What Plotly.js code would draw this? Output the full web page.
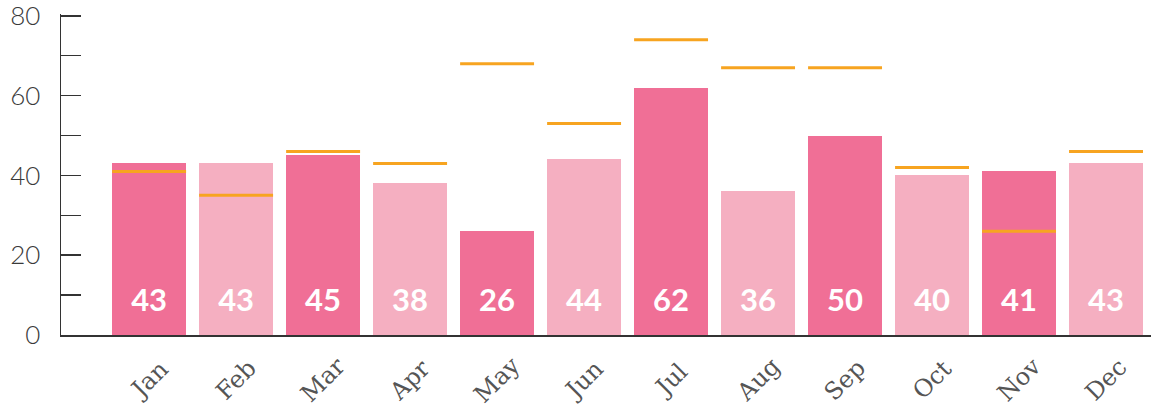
<!DOCTYPE html>
<html>
<head>
<meta charset="utf-8">
<script src="https://cdn.plot.ly/plotly-3.0.1.min.js"></script>
<style>html,body{margin:0;padding:0;background:#fff;}#chart{width:1151px;height:413px;}</style>
</head>
<body>
<div id="chart"></div>
<script>
const months = ["Jan","Feb","Mar","Apr","May","Jun","Jul","Aug","Sep","Oct","Nov","Dec"];
const actual = [43,43,45,38,26,44,62,36,50,40,41,43];
const target = [41,35,46,43,68,53,74,67,67,42,26,46];
const yTicks = [0,20,40,60,80];

const darkPink = "#F06F96";
const lightPink = "#F5AFC1";
const orange = "#F7A420";
const barWidth = 0.85;
const labelY = 8.0;

const idx = months.map((m,i)=>i);
const colors = idx.map(i => i % 2 === 0 ? darkPink : lightPink);

const bars = {
  type: "bar", x: idx, y: actual, width: barWidth,
  marker: {color: colors, line: {width: 0}},
  hoverinfo: "skip", showlegend: false
};

const tx = [], ty = [];
idx.forEach(i => {
  tx.push(i - barWidth/2, i + barWidth/2, null);
  ty.push(target[i], target[i], null);
});
const targets = {
  type: "scatter", mode: "lines", x: tx, y: ty,
  line: {color: orange, width: 3}, hoverinfo: "skip", showlegend: false
};

const labels = {
  type: "scatter", mode: "text", x: idx, y: idx.map(()=>labelY),
  text: actual.map(String), textposition: "middle center",
  textfont: {family: "Lato, 'Open Sans', sans-serif", size: 31, color: "#ffffff", weight: 700},
  hoverinfo: "skip", showlegend: false
};

const annotations = months.map((m,i)=>({
  x: i, xref: "x", y: -0.141, yref: "paper",
  text: m, showarrow: false, textangle: -45,
  xanchor: "center", yanchor: "middle",
  font: {family: "'DejaVu Serif', serif", size: 24, color: "#555"}
}));

const layout = {
  width: 1151, height: 413,
  margin: {l: 61, r: 0, t: 14, b: 78},
  paper_bgcolor: "#fff", plot_bgcolor: "#fff",
  showlegend: false,
  bargap: 0,
  xaxis: {
    range: [-1.013, 11.517], showgrid: false, zeroline: false,
    showline: true, linecolor: "#333", linewidth: 2,
    showticklabels: false, ticks: "", fixedrange: true
  },
  yaxis: {
    range: [0, 80.45], tickvals: yTicks, ticktext: yTicks.map(String),
    showgrid: false, zeroline: false,
    showline: true, linecolor: "#333", linewidth: 1.5,
    ticks: "inside", ticklen: 20, tickwidth: 1.5, tickcolor: "#333",
    ticklabelstandoff: 14, ticklabeloverflow: "allow",
    minor: {dtick: 10, ticks: "inside", ticklen: 20, tickwidth: 1.5, tickcolor: "#333", showgrid: false},
    tickfont: {family: "Lato, 'Open Sans', sans-serif", size: 26, color: "#3a3a3a", weight: 300},
    fixedrange: true
  },
  annotations: annotations
};

Plotly.newPlot("chart", [bars, targets, labels], layout, {displayModeBar: false, staticPlot: true});
</script>
</body>
</html>
